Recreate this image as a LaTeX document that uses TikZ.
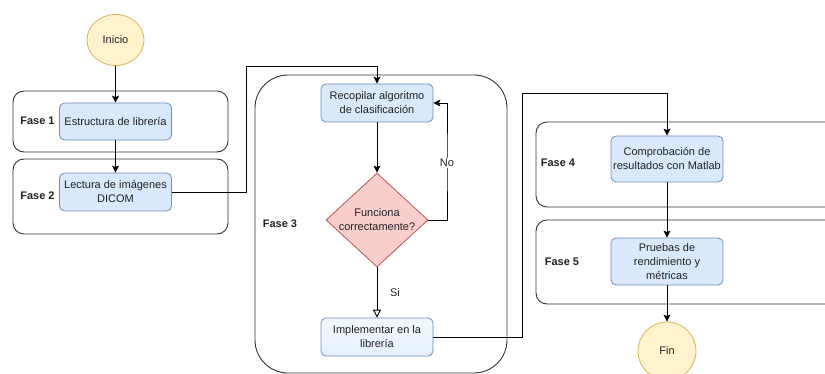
\documentclass[tikz,border=0pt]{standalone}
\usepackage{fontspec}
\setmainfont{Liberation Sans}
\usetikzlibrary{arrows.meta,shapes.geometric}
\definecolor{procfill}{HTML}{DAE8FC}
\definecolor{procline}{HTML}{6C8EBF}
\definecolor{termfill}{HTML}{FFF2CC}
\definecolor{termline}{HTML}{D6B656}
\definecolor{decfill}{HTML}{F8CECC}
\definecolor{decline}{HTML}{B85450}
\definecolor{txt}{HTML}{222222}
\tikzset{
  base/.style={font=\fontsize{11}{14}\selectfont, text=txt, align=center, inner sep=0pt},
  proc/.style={base, draw=procline, fill=procfill, rounded corners=5pt,
    minimum width=112pt, line width=0.8pt},
  term/.style={base, ellipse, draw=termline, fill=termfill, line width=0.8pt},
  phase/.style={draw=black!80, line width=0.9pt},
  phaselabel/.style={base, font=\bfseries\fontsize{11}{14}\selectfont},
  link/.style={draw=black, line width=0.9pt},
  arr/.style={link, -{Stealth[length=7pt,width=7pt,inset=1.5pt]}},
  openarr/.style={link, -{Triangle[open,length=8pt,width=8pt]}},
}
\begin{document}
\begin{tikzpicture}[x=1pt,y=-1pt]
\clip (0,0) rectangle (825,374);
\fill[white] (0,0) rectangle (825,374);

% phase containers
\draw[phase, rounded corners=11pt] (13,91) rectangle (228,152);
\draw[phase, rounded corners=11pt] (13,159) rectangle (228,234);
\draw[phase, rounded corners=33pt] (255,75) rectangle (507,373);
\draw[phase, rounded corners=11pt] (536,122) rectangle (845,207);
\draw[phase, rounded corners=11pt] (536,220) rectangle (845,304);

\node[phaselabel] (l1) at (37.5,121) {Fase 1};
\node[phaselabel] (l2) at (37.5,196) {Fase 2};
\node[phaselabel] (l3) at (280,224) {Fase 3};
\node[phaselabel] (l4) at (558,163) {Fase 4};
\node[phaselabel] (l5) at (562,262) {Fase 5};

% flow nodes
\node[term, minimum width=57pt, minimum height=51pt] (inicio) at (115.5,40) {Inicio};
\node[proc, minimum height=37pt] (estr) at (115.5,121.5) {Estructura de librería};
\node[proc, minimum height=38pt] (lect) at (115.5,192) {Lectura de imágenes\\DICOM};
\node[proc, minimum height=38pt] (recop) at (377,103) {Recopilar algoritmo\\de clasificación};
\node[diamond, draw=decline, fill=decfill, line width=0.8pt, inner sep=0pt,
      minimum width=102pt, minimum height=94pt] (dia) at (377,220) {};
\node[base] (diatext) at (dia.center) {Funciona\\correctamente?};
\node[proc, minimum height=38pt, fill=none,
      top color=procfill!35, bottom color=procfill!110!procline] (impl) at (377,337) {Implementar en la\\librería};
\node[proc, minimum height=46pt] (comp) at (667,159) {Comprobación de\\resultados con Matlab};
\node[proc, minimum height=47pt] (prue) at (667,261.5) {Pruebas de\\rendimiento y\\métricas};
\node[term, minimum width=58pt, minimum height=58pt] (fin) at (667,351) {Fin};

% bends of the long connectors
\coordinate (b1) at (246,66);
\coordinate (b2) at (447,163);
\coordinate (b3) at (522,93);

% connectors
\draw[arr] (inicio) -- (estr);
\draw[arr] (estr) -- (lect);
\draw[arr] (lect.east) -| (b1) -| (recop.north);
\draw[arr] (recop) -- (dia);
\draw[arr] (dia.east) -| (b2) |- (recop.east);
\node[base, fill=white, inner sep=1.5pt] (no) at (b2) {No};
\draw[openarr] (dia.south) -- (impl.north);
\node[base] (si) at (395,293) {Si};
\draw[arr] (impl.east) -| (b3) -| (comp.north);
\draw[arr] (comp) -- (prue);
\draw[arr] (prue) -- (fin);
\end{tikzpicture}
\end{document}
